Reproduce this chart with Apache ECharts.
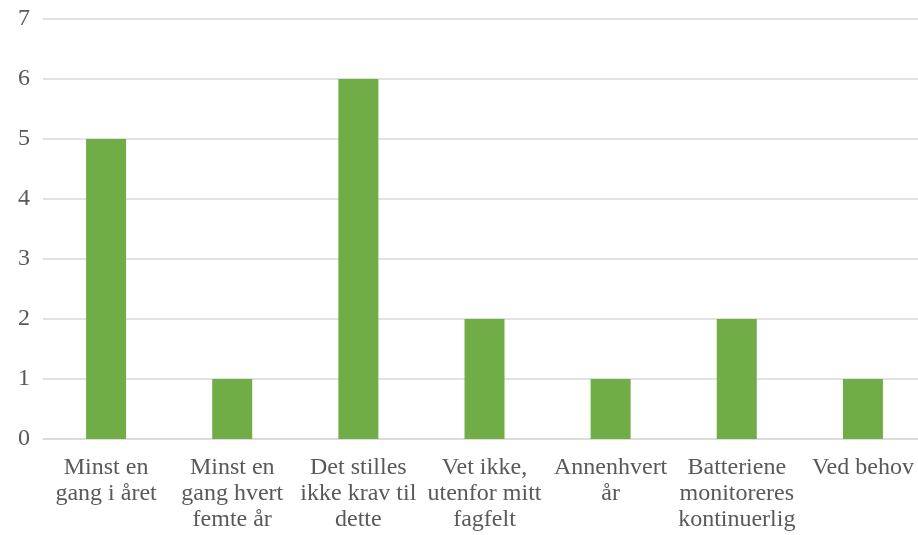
<!DOCTYPE html>
<html>
<head>
<meta charset="utf-8">
<style>html,body{margin:0;padding:0;background:#fff;overflow:hidden;}#chart{width:918px;height:535px;}</style>
<script src="https://cdn.jsdelivr.net/npm/echarts@6/dist/echarts.min.js"></script>
</head>
<body>
<div id="chart"></div>
<script>
// Hvor ofte batteriene kontrolleres
var categories = [
  'Minst en\ngang i året',
  'Minst en\ngang hvert\nfemte år',
  'Det stilles\nikke krav til\ndette',
  'Vet ikke,\nutenfor mitt\nfagfelt',
  'Annenhvert\når',
  'Batteriene\nmonitoreres\nkontinuerlig',
  'Ved behov'
];
var counts = [5, 1, 6, 2, 1, 2, 1];
var yTicks = [0, 1, 2, 3, 4, 5, 6, 7];

var chart = echarts.init(document.getElementById('chart'), null, {renderer: 'canvas'});
chart.setOption({
  animation: false,
  textStyle: {fontFamily: 'Liberation Serif'},
  // plot area runs slightly past the right edge of the canvas
  grid: {left: 43, right: -8, top: 19, bottom: 96, containLabel: false, outerBoundsMode: 'none'},
  xAxis: {
    type: 'category',
    data: categories,
    axisLine: {lineStyle: {color: '#d9d9d9', width: 1.5}},
    axisTick: {show: false},
    axisLabel: {
      interval: 0,
      color: '#595959',
      fontSize: 24,
      lineHeight: 26,
      margin: 16,
      fontFamily: 'Liberation Serif'
    }
  },
  yAxis: {
    type: 'value',
    min: yTicks[0],
    max: yTicks[yTicks.length - 1],
    interval: 1,
    axisLine: {show: false},
    axisTick: {show: false},
    splitLine: {lineStyle: {color: '#d9d9d9', width: 1.5}},
    axisLabel: {color: '#595959', fontSize: 24, margin: 13, fontFamily: 'Liberation Serif'}
  },
  series: [{
    type: 'bar',
    data: counts,
    barWidth: 40,
    itemStyle: {color: '#70ad47'}
  }]
});
</script>
</body>
</html>
